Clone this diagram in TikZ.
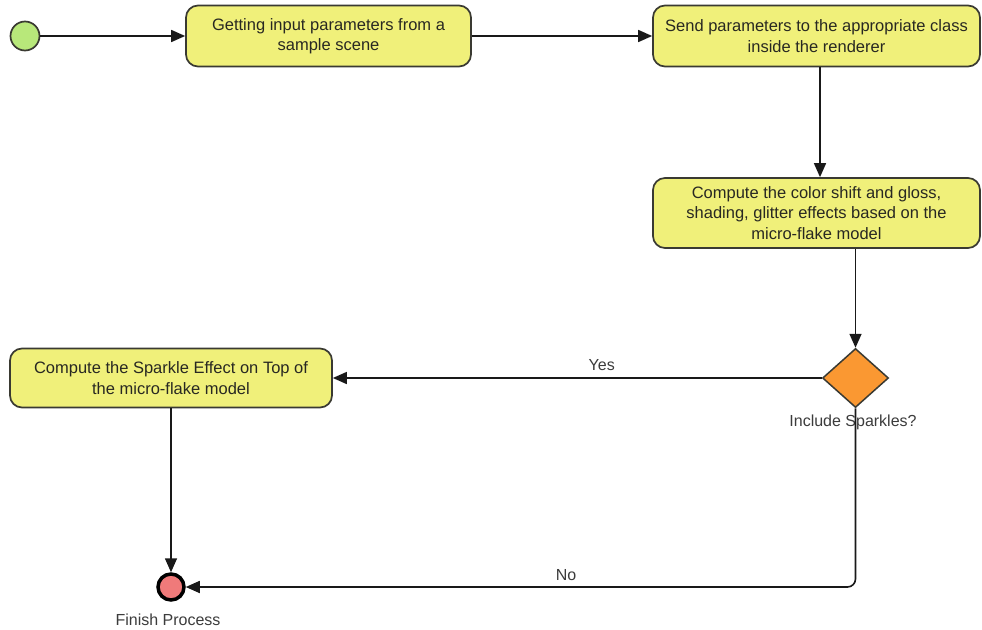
\documentclass[tikz,border=0pt]{standalone}
\usepackage{fontspec}
\setmainfont{Liberation Sans}
\usetikzlibrary{arrows.meta,shapes.geometric}
\definecolor{boxfill}{RGB}{240,240,122}
\definecolor{boxline}{RGB}{58,58,50}
\definecolor{startfill}{RGB}{184,232,122}
\definecolor{endfill}{RGB}{240,122,122}
\definecolor{decfill}{RGB}{250,152,50}
\definecolor{txt}{RGB}{40,40,34}
\definecolor{lbl}{RGB}{60,60,60}
\tikzset{
  act/.style={draw=boxline, fill=boxfill, line width=1.7pt, rounded corners=12pt,
    align=center, text=txt, inner sep=0pt, font=\fontsize{16.5}{20.5}\selectfont},
  conn/.style={draw=black!90, line width=1.6pt, -{Triangle[length=14pt,width=12pt]}},
  lab/.style={text=lbl, font=\fontsize{16}{19}\selectfont, inner sep=0pt},
}
\begin{document}
\begin{tikzpicture}[x=1pt,y=-1pt]
\fill[white] (0,0) rectangle (982,629);
\useasboundingbox (0,0) rectangle (982,629);

\node[circle, draw=boxline, fill=startfill, line width=1.7pt, minimum size=29pt, inner sep=0pt] (start) at (25,36) {};
\node[act, minimum width=285pt, minimum height=61pt] (b1) at (328.5,36)
  {Getting input parameters from a\\sample scene};
\node[act, minimum width=327pt, minimum height=61pt] (b2) at (816.5,36)
  {Send parameters to the appropriate class\\inside the renderer};
\node[act, minimum width=327pt, minimum height=70pt] (b3) at (816.5,213)
  {Compute the color shift and gloss,\\shading, glitter effects based on the\\micro-flake model};
\node[diamond, draw=boxline, fill=decfill, line width=1.5pt, minimum width=66pt, minimum height=59pt, inner sep=0pt] (dec) at (855.5,378) {};
\node[lab] (declab) at (853,422) {Include Sparkles?};
\node[act, minimum width=322pt, minimum height=59pt] (b4) at (171,378)
  {Compute the Sparkle Effect on Top of\\the micro-flake model};
\node[circle, draw=black, fill=endfill, line width=3.5pt, minimum size=26pt, inner sep=0pt] (fin) at (171,587) {};
\node[lab] (finlab) at (168,620) {Finish Process};

\draw[conn] (start) -- (b1);
\draw[conn] (b1) -- (b2);
\draw[conn] ([xshift=3.5pt]b2.south) -- ([xshift=3.5pt]b3.north);
\draw[conn] (b3.south -| dec.north) -- (dec.north);
\draw[conn] (dec.west) -- node[lab, above=7pt, pos=0.45] {Yes} (b4.east);
\draw[conn] (b4.south -| fin.north) -- (fin.north);
\draw[conn, rounded corners=8pt] (dec.south) |- node[lab, above=6pt, pos=0.716] {No} (fin.east);
\end{tikzpicture}
\end{document}
